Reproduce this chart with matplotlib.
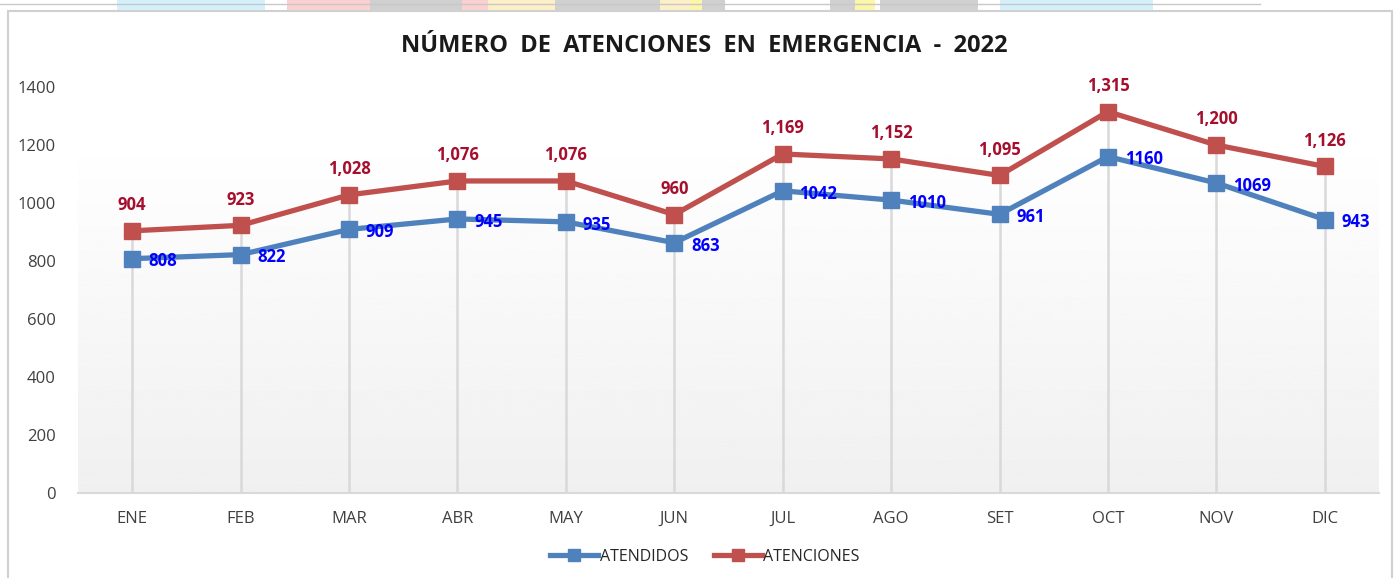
import matplotlib.pyplot as plt
import numpy as np
from matplotlib.patches import Rectangle

meses = ['ENE', 'FEB', 'MAR', 'ABR', 'MAY', 'JUN', 'JUL', 'AGO', 'SET', 'OCT', 'NOV', 'DIC']
atendidos = [808, 822, 909, 945, 935, 863, 1042, 1010, 961, 1160, 1069, 943]
atenciones = [904, 923, 1028, 1076, 1076, 960, 1169, 1152, 1095, 1315, 1200, 1126]
y_ticks = [0, 200, 400, 600, 800, 1000, 1200, 1400]

plt.rcParams['font.family'] = ['Open Sans', 'DejaVu Sans']

W, H = 1395, 578
fig = plt.figure(figsize=(W / 100, H / 100), dpi=100)

# chart frame and a strip of sheet cells above it
fig.patches.append(Rectangle((8 / W, -0.01), (1392 - 8) / W, 1 - 11 / H + 0.01,
                             transform=fig.transFigure, fill=False,
                             edgecolor='#d0d0d0', lw=1.5))
cells = [(117, 265, '#d4f1fb'), (287, 370, '#fbd0d0'), (370, 462, '#d0d0d0'),
         (462, 488, '#fbd0d0'), (488, 555, '#fdefc8'), (555, 660, '#d0d0d0'),
         (660, 690, '#fdefc8'), (690, 702, '#fbf6a8'), (702, 725, '#d0d0d0'),
         (830, 855, '#d0d0d0'), (855, 875, '#fbf6a8'), (880, 978, '#d0d0d0'),
         (1000, 1153, '#d4f1fb')]
for x0, x1, c in cells:
    fig.patches.append(Rectangle((x0 / W, 1 - 10 / H), (x1 - x0) / W, 10 / H,
                                 transform=fig.transFigure, color=c, lw=0))
fig.lines.append(plt.Line2D([0, 1260 / W], [1 - 4 / H] * 2, transform=fig.transFigure,
                            color='#c8c8c8', lw=1))

ax = fig.add_axes([78 / W, 1 - 493 / H, (1379 - 78) / W, (493 - 87) / H])
x = np.arange(len(meses))

# soft gradient in the plot area
grad = np.linspace(0.94, 1.0, 256).reshape(-1, 1)
ax.imshow(grad, cmap='gray', vmin=0, vmax=1, aspect='auto', origin='lower',
          extent=[0, 1, 0, (493 - 133) / 406], transform=ax.transAxes, zorder=0)

# drop lines
ax.vlines(x, 0, atenciones, color='#d9d9d9', lw=1.8, zorder=1)

ax.plot(x, atendidos, color='#4f81bd', lw=3.8, marker='s', ms=11, label='ATENDIDOS', zorder=3)
ax.plot(x, atenciones, color='#c0504d', lw=3.8, marker='s', ms=11, label='ATENCIONES', zorder=3)

for xi, v in zip(x, atenciones):
    ax.annotate(f'{v:,}', (xi, v), xytext=(0, 12), textcoords='offset points',
                ha='center', va='bottom', color='#a50f2d', fontsize=12, fontweight='bold')
for xi, v in zip(x, atendidos):
    ax.annotate(str(v), (xi, v), xytext=(12, -2), textcoords='offset points',
                ha='left', va='center', color='#0000ff', fontsize=12, fontweight='bold')

ax.set_xlim(-0.5, len(meses) - 0.5)
ax.set_ylim(0, 1400)
ax.set_yticks(y_ticks)
ax.set_xticks(x, meses)
ax.tick_params(axis='both', length=0, labelsize=12, colors='#404040')
ax.tick_params(axis='y', pad=16)
ax.tick_params(axis='x', pad=13)
for s in ['top', 'right', 'left']:
    ax.spines[s].set_visible(False)
ax.spines['bottom'].set_color('#d9d9d9')
ax.spines['bottom'].set_linewidth(1.5)

fig.text(704 / W, 1 - 46 / H, 'NÚMERO  DE  ATENCIONES  EN  EMERGENCIA  -  2022',
         ha='center', va='center', fontsize=17, fontweight='bold', color='#1a1a1a')

fig.legend(loc='center', bbox_to_anchor=(705 / W, 1 - 557 / H), ncol=2, frameon=False,
           fontsize=11.5, handlelength=3, columnspacing=1.6, handletextpad=0.1,
           markerscale=0.75, labelcolor='#262626')

fig.savefig('out.png', dpi=100)
